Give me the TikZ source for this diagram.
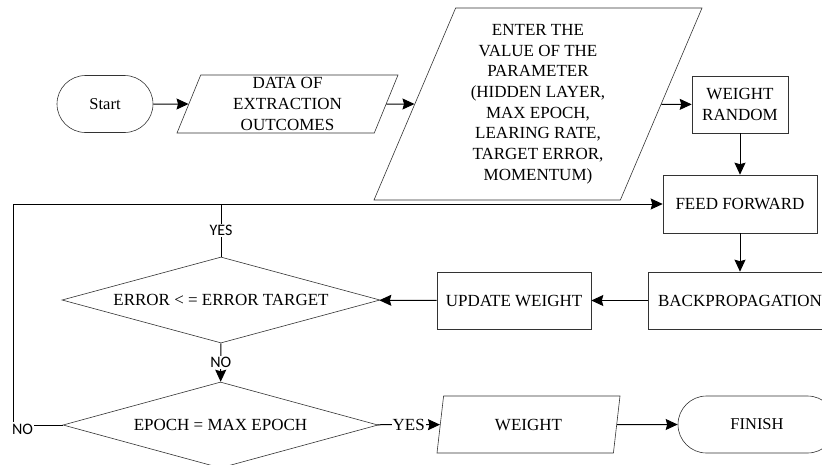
\documentclass[tikz,border=0pt]{standalone}
\usepackage{fontspec}
\setmainfont{Liberation Serif}
\newfontfamily\lblfont{Carlito}
\usepackage{tikz}
\usetikzlibrary{shapes.geometric, shapes.misc, arrows.meta, positioning, calc}
\tikzstyle{terminal} = [
    rounded rectangle,
    minimum height=57pt,
    inner sep=0pt,
    draw=black!80,
    line width=0.6pt,
    font=\fontsize{16.5}{20.7}\selectfont
]
\tikzstyle{io} = [
    trapezium,
    trapezium left angle=64,
    trapezium right angle=116,
    trapezium stretches body,
    inner sep=1pt,
    align=center,
    draw=black!80,
    line width=0.6pt,
    font=\fontsize{17}{20.7}\selectfont
]
\tikzstyle{process} = [
    rectangle,
    minimum height=57pt,
    inner sep=0pt,
    align=center,
    draw=black!80,
    line width=0.6pt,
    font=\fontsize{17}{20.7}\selectfont
]
\tikzstyle{decision} = [
    diamond,
    aspect=4,
    inner sep=0pt,
    minimum height=86pt,
    draw=black!80,
    line width=0.6pt,
    font=\fontsize{17}{20.7}\selectfont
]
\tikzstyle{arrow} = [
    line width=1pt,
    -{Stealth[length=12pt, width=11pt, inset=1.5pt]}
]
\tikzstyle{line} = [
    line width=1pt
]
\tikzstyle{lbl} = [
    fill=white,
    inner sep=1.5pt,
    font=\lblfont\fontsize{16}{18}\selectfont
]

\begin{document}
\begin{tikzpicture}[x=1pt, y=-1pt]
        \useasboundingbox (0,0) rectangle (822,464);

        % Top row
        \node[terminal, minimum width=96pt] (start) at (105,104) {Start};
        \node[io, minimum height=58pt, minimum width=221pt, trapezium left angle=66.6, trapezium right angle=113.4] (data) at (287.5,104) {DATA OF\\EXTRACTION\\OUTCOMES};
        \node[io, minimum height=192pt, minimum width=328pt, trapezium left angle=63.2, trapezium right angle=116.8] (param) at (538,104) {ENTER THE\\VALUE OF THE\\PARAMETER\\(HIDDEN LAYER,\\MAX EPOCH,\\LEARING RATE,\\TARGET ERROR,\\MOMENTUM)};
        \node[process, minimum width=96pt] (rand) at (740,104.5) {WEIGHT\\RANDOM};

        % Training loop
        \node[process, minimum width=154pt, minimum height=58pt] (fwd) at (740,204) {FEED FORWARD};
        \node[process, minimum width=184pt] (back) at (740,300.5) {BACKPROPAGATION};
        \node[process, minimum width=154pt] (upd) at (514,300.5) {UPDATE WEIGHT};
        \node[decision, minimum width=318pt] (err) at (221,300) {ERROR < = ERROR TARGET};
        \node[decision, minimum width=315pt] (epoch) at (220.5,425) {EPOCH = MAX EPOCH};

        % Bottom row
        \node[io, minimum height=57pt, minimum width=183pt] (wgt) at (528.5,424.5) {WEIGHT};
        \node[terminal, minimum width=158pt] (finish) at (757,424.5) {FINISH};

        \coordinate (loop) at (13,425);

        % Arrows
        \draw[arrow] (start) -- (data);
        \draw[arrow] (data) -- (param);
        \draw[arrow] (param) -- (rand);
        \draw[arrow] (rand) -- (fwd);
        \draw[arrow] (fwd) -- (back);
        \draw[arrow] (back) -- (upd);
        \draw[arrow] (upd) -- (err);
        \draw[arrow] (err) -- node[lbl]{NO} (epoch);
        \draw[line] (err.north) -- node[lbl]{YES} (err.north |- fwd.west);
        \draw[arrow] (epoch.west) -- (loop) -- (loop |- fwd.west) -- (fwd.west);
        \node[lbl] (nolbl) at (22.5,429) {NO};
        \draw[arrow] (epoch) -- node[fill=white, inner sep=1pt, font=\fontsize{17}{20}\selectfont]{YES} (wgt);
        \draw[arrow] (wgt) -- (finish);
    \end{tikzpicture}
\end{document}
